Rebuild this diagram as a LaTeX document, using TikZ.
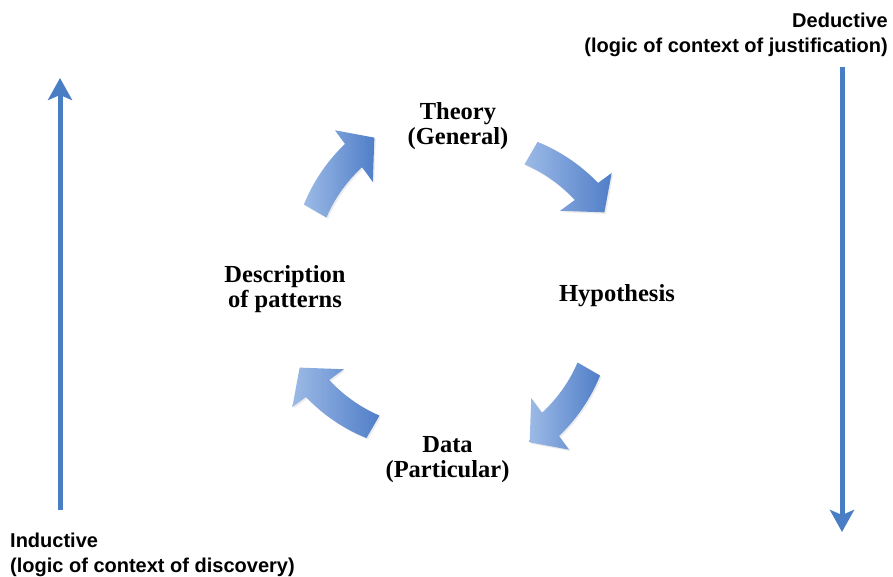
\documentclass[tikz,border=0pt]{standalone}
\usepackage{fontspec}
\newfontfamily\labelfont{Liberation Sans}
\newfontfamily\stagefont{Liberation Serif}
\usetikzlibrary{arrows.meta, shadows}

\definecolor{arrowblue}{RGB}{74,126,196}
\definecolor{cyclelight}{RGB}{156,186,230}
\definecolor{cycledark}{RGB}{80,126,200}

\tikzset{
    sidearrow/.style={arrowblue, line width=5pt, -{Stealth[length=22pt, width=24pt, inset=5pt]}},
    sidelabel/.style={font=\labelfont\bfseries\fontsize{20}{25}\selectfont, inner sep=0pt},
    stagelabel/.style={font=\stagefont\bfseries\fontsize{24.5}{25}\selectfont, align=center, inner sep=0pt},
    cyclearrow/.style={left color=cyclelight, right color=cycledark,
        drop shadow={shadow xshift=1.5pt, shadow yshift=-1.5pt, opacity=0.15}}
}

% curved block arrow of the cycle: #1 tail angle, #2 tip angle
\newcommand{\cyclearrow}[2]{%
    \shade[cyclearrow]
        plot[domain=0:0.72, samples=20] ({#1+(#2-#1)*\x}:{171+14*\x})
        -- ({#1+(#2-#1)*0.72}:{198})
        -- (#2:171)
        -- ({#1+(#2-#1)*0.72}:{134})
        -- plot[domain=0.72:0, samples=20] ({#1+(#2-#1)*\x}:{145+10*\x})
        -- cycle;}

\begin{document}
\begin{tikzpicture}[x=1pt, y=1pt]
    \useasboundingbox (0,0) rectangle (893,577);

    % inductive side: upwards
    \coordinate (ind-start) at (60,67);
    \coordinate (ind-end) at (60,499);
    \draw[sidearrow] (ind-start) -- (ind-end);
    \node[sidelabel, anchor=west, align=left] (inductive) at (10,22.5)
        {Inductive\\(logic of context of discovery)};

    % deductive side: downwards
    \coordinate (ded-start) at (842,510);
    \coordinate (ded-end) at (842,45);
    \draw[sidearrow] (ded-start) -- (ded-end);
    \node[sidelabel, anchor=east, align=right] (deductive) at (888,542)
        {Deductive\\(logic of context of justification)};

    % the cycle
    \begin{scope}[shift={(452,287)}]
        \cyclearrow{150}{117}
        \cyclearrow{60}{27}
        \cyclearrow{-30}{-63}
        \cyclearrow{-120}{-153}
    \end{scope}

    \node[stagelabel] (theory) at (458,451) {Theory\\(General)};
    \node[stagelabel, anchor=base] (hypothesis) at (617,275) {Hypothesis};
    \node[stagelabel] (data) at (447.5,117) {Data\\(Particular)};
    \node[stagelabel] (patterns) at (285,288) {Description\\of patterns};
\end{tikzpicture}
\end{document}
